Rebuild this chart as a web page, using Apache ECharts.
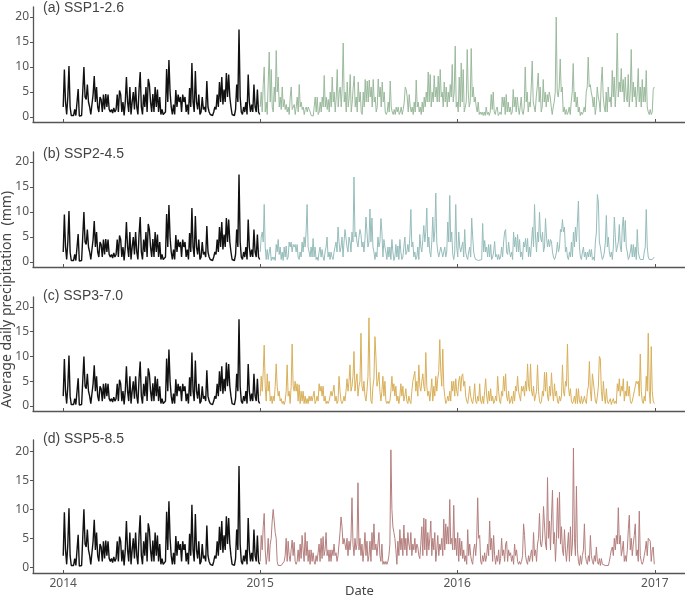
<!DOCTYPE html>
<html>
<head>
<meta charset="utf-8">
<script src="https://cdn.jsdelivr.net/npm/echarts@6/dist/echarts.min.js"></script>
<style>html,body{margin:0;padding:0;background:#fff;}#c{width:685px;height:599px;}</style>
</head>
<body>
<div id="c"></div>
<script>
// Observed 2014 daily precipitation (mm), sampled roughly every 2 days
const OBS_2014 = [2, 9.5, 3, 0.5, 4, 10.2, 2, 0.3, 0.2, 0.3, 1.5, 0.3, 0.2, 5.6, 0.2, 0.3, 0.3, 0.3, 10, 4, 3.5, 6.5, 3, 2, 0.5, 0.2, 4.5, 8.2, 3, 6, 2, 1, 4, 3.5, 1, 4.5, 1.5, 4.6, 2, 4.5, 1.5, 1, 1.5, 0.8, 1.8, 1, 1.5, 4.5, 1, 5.3, 4.5, 1, 3, 0.3, 3, 8, 3, 1, 6, 0.5, 3, 5, 1.5, 6, 2, 0.5, 5.5, 9, 2, 0.5, 4.5, 2, 6, 1, 7.6, 6.5, 3, 1, 4.6, 1, 6, 2, 5.5, 1, 4, 0.5, 1.5, 0.5, 0.3, 1, 9.6, 3, 11.4, 5, 2, 0.5, 2.5, 0.5, 5.4, 2, 4.5, 3, 4, 1, 4.5, 3, 4, 1, 2.5, 0.5, 5.8, 2, 10.8, 3, 1, 9.2, 3, 1.5, 4.5, 0.5, 1, 4, 1.5, 2, 1, 7.2, 2, 1, 0.5, 0.3, 0.3, 1, 2, 1.5, 4.5, 2, 7, 3, 8, 2.5, 5.5, 3, 8.8, 4, 8.5, 4, 2, 0.5, 0.3, 0.3, 1.5, 6.5, 3, 17.5, 4, 1, 0.5, 2, 1, 3, 0.5, 8.5, 3, 1, 2.5, 1, 6.5, 2, 1, 5.5, 1, 0.5];

// Projected 2015-2016 daily precipitation (mm), sampled roughly every 2 days
const SSP126 = [2, 5, 1, 6.5, 10, 1, 3, 0.5, 7, 13, 3, 9.5, 2, 1, 6, 3, 13.3, 5, 8, 2, 4, 1.5, 6, 2, 3.5, 1.5, 2.5, 1, 2, 0.5, 4, 6, 1.5, 2, 2.5, 0.5, 2, 4, 1, 6.5, 2, 3, 1.5, 2, 0.5, 1.5, 2, 1, 2, 1.5, 1, 0.3, 0.2, 0.2, 0.3, 4, 1, 4, 0.5, 1, 3, 1, 4, 2, 8.3, 2, 4, 1.5, 3.5, 1, 5, 2, 8, 3, 5, 1, 4, 9.5, 2, 5, 6, 2, 6, 14.8, 3, 5, 1, 7, 2, 4, 8.5, 1, 3, 6, 8.2, 2, 4, 1, 7, 3, 5, 1, 0.5, 5, 2, 7.5, 3, 7.2, 3, 7.4, 4, 6, 2, 7.5, 3, 4, 1, 2, 7.6, 4, 6, 2, 7, 3, 5, 1, 0.5, 1, 3, 1, 7.2, 2, 1, 0.5, 1.5, 0.5, 2, 1, 2, 0.5, 1, 2, 0.5, 1.5, 3, 6, 5.5, 4, 1, 4.5, 2, 1, 2, 0.5, 3, 1, 7.4, 2, 3, 1, 2, 0.5, 3, 1, 4, 2, 5, 3, 9, 3, 8.5, 2, 5, 3, 8.3, 4, 6, 3, 8.2, 3, 9.5, 4, 5, 2, 7, 3, 6, 2, 5, 3, 6.5, 4, 10.5, 3, 5, 14.2, 2, 3, 1, 8, 2, 10.8, 3, 9.5, 1, 2, 3, 13.5, 5, 2,
  3, 13.7, 4, 6, 3, 4, 2, 1, 3, 0.5, 1, 0.5, 1, 0.3, 1, 0.3, 2, 0.5, 1, 0.3, 1, 4.5, 1.5, 5, 1, 0.5, 1.5, 2, 0.3, 0.5, 1, 0.5, 4, 2, 4, 0.5, 4.5, 1, 3, 1, 2, 0.5, 1, 5.5, 2, 4, 1, 4, 2, 0.5, 2, 4, 1, 0.5, 2, 10, 3, 5, 1, 3, 2, 6, 11.2, 3, 2, 1, 4, 6, 8.8, 3, 6, 1, 2, 7.5, 3, 5, 2, 4.5, 3, 5, 4, 2, 0.5, 2, 3, 5, 20, 5, 4, 6, 11.6, 5, 6, 1, 2, 0.5, 1.5, 0.5, 1, 2, 0.5, 3, 5, 10.7, 3, 5, 2, 4, 1, 2, 0.3, 1, 0.5, 1, 2, 1, 5, 6, 12, 6, 6.5, 5, 4, 2, 4, 0.5, 2, 6, 4, 3, 1, 7, 10, 4, 2, 1, 5, 1, 6, 3, 4, 2, 9.3, 4, 8, 2, 6, 16.8, 4, 7, 5, 9.7, 5, 7.5, 3, 8, 4, 3, 8.5, 2, 5, 13.5, 3, 7, 4, 6, 2, 5, 9.7, 3, 6, 2, 7.5, 3, 6, 3, 9.3, 2, 1, 0.5, 1.5, 0.5, 1, 5.5, 6];

const SSP245 = [2, 5, 6, 4, 11.5, 3, 0.5, 2.5, 0.5, 2, 3, 0.3, 1, 0.5, 1, 0.3, 3.5, 2, 4.5, 1.5, 3, 0.5, 2, 0.3, 3, 1, 3.2, 0.5, 1, 4, 3, 4, 2, 3.5, 3, 3.5, 2, 3.5, 1, 0.5, 2, 1, 4, 2, 5, 3, 6, 11.5, 3, 2, 1, 3, 1, 4.7, 1, 3, 0.5, 1, 0.3, 2, 3, 1, 2.5, 1, 0.3, 2, 3, 5, 1, 2, 0.5, 2, 1, 0.5, 2, 3, 4, 2, 7, 4, 2, 3, 5, 1, 4, 6.5, 6.5, 3, 2, 5, 4, 2, 6, 4, 17, 5, 6, 4, 3, 5, 6.5, 5.5, 3, 4, 2, 4.5, 9, 6, 3, 4, 10.6, 4, 8.8, 3, 2, 0.5, 2, 1, 5, 3, 4, 8.7, 6, 1, 4.5, 3, 2, 0.5, 3, 1, 3, 0.5, 4.5, 2, 0.3, 1, 3.5, 1, 3.2, 0.5, 4.5, 2, 0.5, 1, 3, 5, 1.5, 2, 3.5, 2, 5, 10.5, 3, 4, 1, 2, 0.5, 1, 3, 0.5, 5.5, 3, 2, 4.5, 7.3, 4, 6, 10.8, 3, 5, 2, 1, 4, 9, 4, 6, 13.8, 4, 2, 1, 2, 3, 3, 1, 2, 3, 1, 2, 8, 4, 13.3, 4, 6, 1.5, 0.5, 2, 11.5, 3, 1, 6, 3, 2, 3, 4, 1, 6.5, 2, 1, 0.5, 2, 3,
  1, 8.8, 5, 2, 1, 0.5, 0.3, 0.3, 0.3, 0.3, 0.3, 0.5, 7.7, 2, 4.3, 2, 3, 1, 3.5, 1, 3.5, 0.5, 1, 2, 4.1, 1, 1.5, 0.5, 1.5, 0.5, 1, 3, 1, 4, 6, 6.5, 2, 1.5, 4, 2, 1, 2, 0.5, 6, 3, 5, 2, 5.5, 2, 4.5, 1, 2, 0.5, 4, 3, 4.7, 2, 4.7, 1, 3, 1, 4, 7, 3, 11.5, 5, 2, 6, 4, 10, 5, 4, 6, 2, 3, 8.7, 5, 3, 4.5, 3, 4.5, 4, 2, 1, 0.5, 1, 2, 4, 2, 3, 6.5, 6, 8.5, 6, 7, 2, 3, 1, 0.5, 2, 1, 4, 1, 6, 3, 7, 4, 8, 12.2, 3, 1, 0.5, 2, 3, 1, 2, 0.5, 2, 1, 2.5, 1, 2.5, 0.5, 1, 0.3, 4, 6, 13.5, 12, 4, 3, 1.5, 0.5, 1, 2, 4, 9.3, 3, 5, 2, 1, 2, 0.5, 3, 9, 5, 2, 3, 4, 7.5, 3, 2, 7, 9, 4, 8.3, 3, 2, 0.5, 1, 2, 3.5, 1, 3.5, 1, 3, 0.5, 6.5, 2, 1, 0.5, 0.3, 0.3, 0.5, 2, 3, 10.5, 3, 1, 0.5, 0.3, 0.3, 0.5, 0.3, 1];

const SSP370 = [2, 6, 3, 7, 12.3, 4, 1, 6.5, 3, 5, 1, 2, 0.5, 2, 1, 4, 8.5, 4, 2, 3, 1, 1.5, 0.5, 1, 0.3, 1, 3, 8.3, 2, 3, 0.5, 4, 12.5, 4, 3, 5, 3, 4.5, 1, 4.3, 0.5, 3, 1, 3, 0.5, 2, 0.5, 1.5, 0.5, 2, 1, 2, 1, 2, 3, 0.5, 1, 2, 1, 4.5, 3, 4, 2, 4, 1, 2, 0.5, 1, 0.5, 1, 2, 3, 2, 3, 4.2, 1, 2, 0.5, 1, 6, 3, 1, 0.5, 1, 2, 1, 3, 5.5, 3, 5, 8.3, 3, 4, 6, 11, 3, 5, 6.5, 2, 4, 5, 14.7, 4, 3, 5, 2, 1, 3, 6, 17.8, 6, 1, 0.5, 4, 5.5, 14, 10, 4, 5, 6.8, 3, 1, 3, 6, 2, 5, 1, 0.5, 1, 0.5, 1, 3, 6, 3, 4.5, 2, 4, 1, 2, 0.5, 2, 4.5, 2, 4, 1, 2, 3.5, 1, 0.5, 2, 1, 0.5, 3, 5, 6, 7, 3, 5, 2, 8.3, 4, 3, 5, 6.5, 4, 3, 10.8, 4, 2, 3, 1, 3, 5.5, 1, 4, 2, 6, 3, 5.5, 7, 13.4, 7, 4, 11.5, 4, 2, 0.5, 1, 2, 1, 3, 1, 5, 3, 5, 2, 5.5, 3, 2, 5, 6, 3, 6, 6.5, 4, 5, 2, 1, 0.5, 2, 4,
  2, 1, 0.5, 2, 4.5, 1, 0.5, 2, 1, 4.5, 1, 0.5, 2, 0.5, 3, 5.5, 2, 0.5, 3, 1, 3.5, 1, 2, 0.5, 1, 2, 1, 6, 3, 1, 0.5, 3, 2, 6, 3, 6.5, 2, 1, 3, 0.5, 1, 2, 0.5, 3, 1, 4, 3, 6, 3, 2, 1, 4, 3, 4, 2, 5, 3, 8.5, 4, 3, 8.5, 3, 2, 4, 1, 2, 3, 8.3, 3, 1, 0.5, 1, 3, 2, 6.8, 3, 6.8, 2, 1, 4, 2, 6.7, 3, 1, 4.5, 2, 3, 1, 0.5, 2, 1, 2, 8.3, 3, 2, 5, 4, 12.5, 4, 2, 3.5, 1, 0.5, 1, 2, 0.5, 3.5, 0.5, 3.5, 1, 0.5, 2, 0.5, 1, 2, 1, 0.5, 3, 4, 9, 3, 1, 6.5, 6.7, 3, 1, 0.5, 2, 4, 10, 9.5, 3, 1, 5, 2, 0.5, 3.5, 1, 0.5, 1, 1.5, 0.3, 1, 1.5, 0.5, 1, 0.5, 4.5, 3, 5.5, 2, 4, 3, 5.5, 1, 3, 2, 5, 2, 4, 1, 0.5, 1, 2, 3, 4, 5, 4.5, 5, 2, 10.5, 3, 1, 0.5, 2, 1, 6, 3, 14.7, 3, 0.5, 12, 3, 1, 0.5];

const SSP585 = [1, 5.5, 3, 7, 9.3, 3, 0.5, 2, 5, 1, 4, 5, 8, 10, 10.2, 6, 5, 1, 0.3, 0.3, 0.5, 0.3, 0.5, 0.3, 1, 2, 5, 1, 4.5, 2, 1, 3, 4.7, 2, 4.3, 1, 0.5, 1, 3, 1, 4, 1.5, 5.5, 3, 1, 6, 2, 4.5, 1, 3, 0.5, 3, 1, 2.5, 1, 0.5, 2, 1, 2.5, 4, 1, 5, 1.5, 5.3, 2, 3, 6, 2, 3, 1, 3, 1, 3, 2, 4, 2, 2.5, 1, 2, 4, 6, 8.7, 7, 4, 5, 4, 3, 5, 2, 4.5, 3, 5, 12, 4, 2, 5, 3, 4, 14.6, 3, 5, 2, 4, 1, 3, 6, 2, 4.5, 1, 2, 4.5, 1, 6, 3, 7.5, 3, 4, 2, 4, 6, 2, 1, 4, 0.5, 1, 0.5, 1, 0.5, 1, 2, 4, 20.3, 10, 7, 6, 5, 3, 0.5, 4.5, 2, 6.5, 3, 5, 2, 7.3, 3, 5, 2, 6, 4, 3, 6, 2, 4, 3, 5, 2.5, 4, 3.5, 2, 1.5, 4, 7, 2, 8.5, 3, 8.3, 2, 6, 3, 5, 8, 2, 5, 3, 6, 1, 3, 5.5, 2, 4, 3, 5, 2, 8.3, 3, 7.5, 4, 7, 4, 11.7, 4, 5, 3, 10.7, 3, 5, 2, 6, 1, 5, 2, 4.5, 1.5, 3, 1, 2, 0.5, 6.5, 2, 4,
  2, 1, 0.5, 3, 4, 2, 4.5, 12, 5, 5.5, 1, 0.5, 2, 1, 2.5, 1, 2, 4, 2, 8, 3, 5, 1, 5.5, 2, 0.5, 2, 1, 3, 0.5, 1.5, 5, 2, 3, 1, 4, 4.5, 1, 3, 2, 2.5, 1, 2, 0.5, 4, 2, 3, 1, 0.5, 1, 0.5, 1, 2, 7.5, 5.5, 2, 1, 0.5, 2, 1, 2, 3, 1, 6, 2, 3, 1, 4, 5, 9.3, 4, 3.5, 5, 10.5, 10.3, 4, 3, 15.5, 5, 8, 3, 8.5, 13.3, 4, 6, 1, 5, 12, 5, 13, 4, 7, 3, 2, 6.5, 3, 1, 3.5, 6, 1, 7, 2, 4, 20.6, 5, 2, 14, 3, 1, 0.3, 2, 0.5, 2, 3, 7.5, 2, 1, 0.5, 2, 1, 5.5, 2, 1, 0.5, 2, 1, 3.5, 1, 0.5, 1.5, 0.3, 1.5, 0.5, 0.3, 0.5, 0.3, 0.3, 0.5, 0.3, 1, 2, 3, 3.5, 2, 5, 3, 5.5, 4, 10.3, 4, 5.5, 2, 3, 4.5, 1, 2, 1, 3, 6.5, 9, 3, 5, 2, 4, 5.5, 7.5, 2, 3, 1, 9.7, 2, 1, 0.5, 1, 2, 3, 4.5, 2, 5, 5.2, 4.5, 1, 3, 3.5, 0.5];

const PANEL_TITLES = ['(a) SSP1-2.6', '(b) SSP2-4.5', '(c) SSP3-7.0', '(d) SSP5-8.5'];
const PROJECTIONS = [SSP126, SSP245, SSP370, SSP585];
const PROJ_COLORS = ['#9bba9d', '#96bdbb', '#d9b05a', '#b47f7e'];
const Y_TICKS = [0, 5, 10, 15, 20];
const YEAR_TICKS = [2014, 2015, 2016, 2017];

const DAY = 86400000;
const T0 = Date.UTC(2014, 0, 1);
const dayOf = (y) => Math.round((Date.UTC(y, 0, 1) - T0) / DAY);
const yearTickDays = YEAR_TICKS.map(dayOf);
const obsEnd = dayOf(2015) - 1;
const projStart = dayOf(2015), projEnd = dayOf(2017) - 1;

function toSeries(vals, d0, d1) {
  const n = vals.length;
  return vals.map((v, i) => [d0 + i * (d1 - d0) / (n - 1), v]);
}

const layout = [
  { top: 7, height: 115 },
  { top: 152, height: 115 },
  { top: 297, height: 114 },
  { top: 440, height: 133 }
];
const titleTops = [1, 147, 289, 432];
const axisColor = '#555';
const textColor = '#555';
const font = 'Noto Sans, Open Sans, sans-serif';

const grid = layout.map(g => ({ left: 33, right: 0, top: g.top, height: g.height }));
const xAxis = layout.map((g, i) => ({
  type: 'value', gridIndex: i, min: -56, max: 1152,
  axisLine: { show: true, onZero: false, lineStyle: { color: axisColor, width: 1.3 } },
  axisTick: { show: true, inside: true, length: 3, customValues: yearTickDays, lineStyle: { color: axisColor } },
  axisLabel: {
    show: i === 3, customValues: yearTickDays, color: textColor, fontSize: 12, fontFamily: font, margin: 5,
    formatter: (v) => String(YEAR_TICKS[yearTickDays.indexOf(Math.round(v))])
  },
  splitLine: { show: false }
}));
const yAxis = layout.map((g, i) => ({
  type: 'value', gridIndex: i, min: -1, max: 22,
  axisLine: { show: true, onZero: false, lineStyle: { color: axisColor, width: 1.3 } },
  axisTick: { show: true, length: 3, customValues: Y_TICKS, lineStyle: { color: axisColor } },
  axisLabel: { customValues: Y_TICKS, color: textColor, fontSize: 12, fontFamily: font, margin: 4 },
  splitLine: { show: false }
}));

const series = [];
PROJECTIONS.forEach((vals, i) => {
  series.push({
    type: 'line', xAxisIndex: i, yAxisIndex: i, showSymbol: false, silent: true,
    data: toSeries(vals, projStart, projEnd),
    lineStyle: { color: PROJ_COLORS[i], width: 1 }, z: 2
  });
  series.push({
    type: 'line', xAxisIndex: i, yAxisIndex: i, showSymbol: false, silent: true,
    data: toSeries(OBS_2014, 0, obsEnd),
    lineStyle: { color: '#111', width: 1.4 }, z: 3
  });
});

const title = PANEL_TITLES.map((t, i) => ({
  text: t, left: 43, top: titleTops[i], padding: 0,
  textStyle: { fontSize: 14, fontWeight: 'normal', color: '#444', fontFamily: 'Liberation Sans, Arial, sans-serif' }
}));

const chart = echarts.init(document.getElementById('c'), null, { renderer: 'canvas' });
chart.setOption({
  animation: false,
  backgroundColor: '#fff',
  title, grid, xAxis, yAxis, series,
  graphic: [
    { type: 'text', left: 0, top: 'middle', rotation: Math.PI / 2, style: { text: 'Average daily precipitation  (mm)', fill: '#444', font: '14px Noto Sans, sans-serif' } },
    { type: 'text', left: 345, top: 585, style: { text: 'Date', fill: '#444', font: '13px Noto Sans, sans-serif' } }
  ]
});
</script>
</body>
</html>
